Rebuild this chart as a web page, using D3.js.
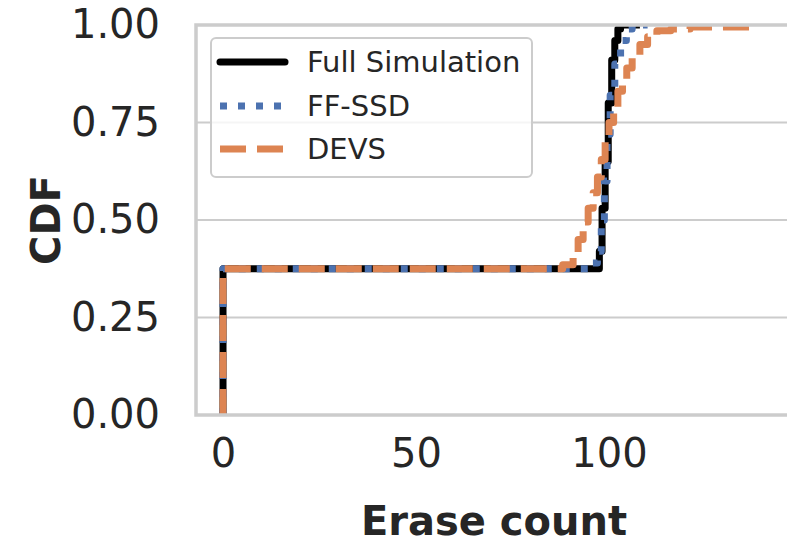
<!DOCTYPE html>
<html>
<head>
<meta charset="utf-8">
<script src="https://cdn.jsdelivr.net/npm/d3@7"></script>
<style>
  body { margin: 0; background: #fff; }
  text { font-family: "DejaVu Sans", sans-serif; fill: #262626; }
</style>
</head>
<body>
<script>
'use strict';

// series names and styles
const seriesNames = ["Full Simulation", "FF-SSD", "DEVS"];

// ECDF step points (erase count, cumulative fraction)
const fullX   = [0, 0, 96.5, 97.5, 98.2, 99, 99.8, 100.7, 101.5, 102.3, 103, 108];
const fullCdf = [0, 0.375, 0.375, 0.42, 0.53, 0.65, 0.80, 0.91, 0.96, 0.99, 1.0, 1.0];

const ffX   = [0, 0, 94.5, 95.8, 97, 98, 98.8, 99.5, 100.3, 101.5, 103, 104.5, 106, 110];
const ffCdf = [0, 0.375, 0.375, 0.39, 0.42, 0.50, 0.60, 0.72, 0.82, 0.90, 0.96, 0.99, 1.0, 1.0];

const devsX   = [0, 0, 84, 88, 90.7, 92, 93.3, 94.6, 95.9, 97, 98, 99, 100, 101.2, 102.3, 103.5, 104.6, 106, 108, 110, 112.4, 116, 121, 137];
const devsCdf = [0, 0.375, 0.375, 0.385, 0.415, 0.45, 0.495, 0.53, 0.57, 0.61, 0.655, 0.70, 0.75, 0.79, 0.83, 0.86, 0.89, 0.92, 0.95, 0.97, 0.985, 0.99, 0.995, 1.0];

const xTicks = [0, 50, 100];
const yTicks = [0, 0.25, 0.5, 0.75, 1.0];

let svg = "";

window.onload = function() {
  svg = d3.select('body')
    .append('svg')
    .attr('width', 787)
    .attr('height', 541);
  makeChart();
};

function makeChart() {
  let left = 196, right = 802, top = 25, bottom = 415;

  let xScale = d3.scaleLinear().domain([-7, 150]).range([left, right]);
  let yScale = d3.scaleLinear().domain([0, 1]).range([bottom, top]);

  // clip for the lines
  svg.append('clipPath').attr('id', 'plotClip')
    .append('rect')
    .attr('x', left).attr('y', top)
    .attr('width', right - left).attr('height', bottom - top);

  // horizontal grid
  svg.append('g')
    .selectAll('line')
    .data(yTicks)
    .enter()
    .append('line')
    .attr('x1', left).attr('x2', right)
    .attr('y1', d => yScale(d)).attr('y2', d => yScale(d))
    .attr('stroke', '#cccccc')
    .attr('stroke-width', 2);

  // lines
  let series = [
    {name: seriesNames[0], x: fullX, y: fullCdf, color: '#000000', dash: null},
    {name: seriesNames[1], x: ffX, y: ffCdf, color: '#4c72b0', dash: '7,11'},
    {name: seriesNames[2], x: devsX, y: devsCdf, color: '#dd8452', dash: '26,11'}
  ];

  let line = d3.line()
    .x(d => xScale(d[0]))
    .y(d => yScale(d[1]))
    .curve(d3.curveStepAfter);

  let plot = svg.append('g').attr('clip-path', 'url(#plotClip)');
  series.forEach(function(s) {
    let pts = s.x.map((v, i) => [v, s.y[i]]);
    plot.append('path')
      .attr('d', line(pts))
      .attr('fill', 'none')
      .attr('stroke', s.color)
      .attr('stroke-width', 7)
      .attr('stroke-linejoin', 'round')
      .attr('stroke-dasharray', s.dash);
  });

  // frame
  svg.append('rect')
    .attr('x', left).attr('y', top)
    .attr('width', right - left).attr('height', bottom - top)
    .attr('fill', 'none')
    .attr('stroke', '#cccccc')
    .attr('stroke-width', 3.5);

  // axes (ticks hidden, labels only)
  let xAxis = d3.axisBottom(xScale).tickValues(xTicks).tickSize(0).tickPadding(24);
  let yAxis = d3.axisLeft(yScale).tickValues(yTicks).tickSize(0).tickPadding(36)
    .tickFormat(d3.format('.2f'));

  svg.append('g')
    .attr('transform', 'translate(0,' + bottom + ')')
    .call(xAxis)
    .call(g => g.select('.domain').remove())
    .selectAll('text')
    .style('font-family', 'DejaVu Sans')
    .style('font-size', '40px')
    .attr('fill', '#262626');

  svg.append('g')
    .attr('transform', 'translate(' + left + ',0)')
    .call(yAxis)
    .call(g => g.select('.domain').remove())
    .selectAll('text')
    .style('font-family', 'DejaVu Sans')
    .style('font-size', '40px')
    .attr('fill', '#262626');

  // axis titles
  svg.append('text')
    .attr('x', 494).attr('y', 535)
    .attr('text-anchor', 'middle')
    .style('font-size', '40px')
    .style('font-weight', 'bold')
    .text('Erase count');

  svg.append('text')
    .attr('transform', 'translate(60,220)rotate(-90)')
    .attr('text-anchor', 'middle')
    .style('font-size', '40px')
    .style('font-weight', 'bold')
    .text('CDF');

  makeLegend(series);
}

function makeLegend(series) {
  let lg = svg.append('g');
  lg.append('rect')
    .attr('x', 211).attr('y', 38)
    .attr('width', 321).attr('height', 139)
    .attr('rx', 5)
    .attr('fill', 'white')
    .attr('fill-opacity', 0.8)
    .attr('stroke', '#cccccc')
    .attr('stroke-width', 2);

  let rowY = [62, 106, 149];
  series.forEach(function(s, i) {
    lg.append('line')
      .attr('x1', 220).attr('x2', 285)
      .attr('y1', rowY[i]).attr('y2', rowY[i])
      .attr('stroke', s.color)
      .attr('stroke-width', 7)
      .attr('stroke-dasharray', s.dash)
      .attr('stroke-linecap', s.dash ? 'butt' : 'round');
    lg.append('text')
      .attr('x', 307).attr('y', rowY[i] + 10)
      .style('font-size', '29px')
      .text(s.name);
  });
}
</script>
</body>
</html>
